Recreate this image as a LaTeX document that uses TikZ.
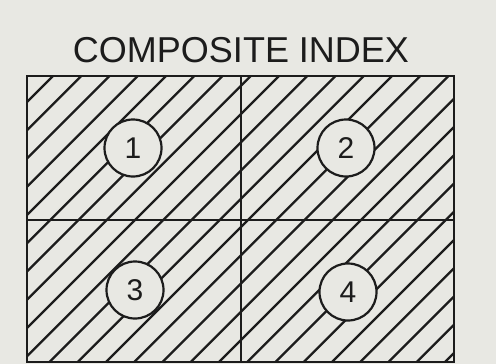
\documentclass[tikz,border=0pt]{standalone}
\usepackage{fontspec}
\setmainfont{Liberation Sans}
\usepackage{xcolor}
\usetikzlibrary{positioning}
\definecolor{paper}{RGB}{232,232,227}
\definecolor{ink}{RGB}{28,28,28}
\tikzset{
  frame/.style   = {draw=ink, line width=2.6pt},
  hatch/.style   = {draw=ink, line width=2.2pt},
  numcirc/.style = {circle, draw=ink, line width=2.2pt, fill=paper,
                    minimum size=57pt, inner sep=0pt,
                    font=\fontsize{30}{30}\selectfont, text=ink},
  heading/.style = {font=\fontsize{36}{40}\selectfont, text=ink}
}
\begin{document}
\begin{tikzpicture}[x=1pt, y=-1pt]
  \fill[paper] (0,0) rectangle (496,364);
  \useasboundingbox (0,0) rectangle (496,364);
  \node[heading] (title) at (241,50) {COMPOSITE INDEX};
  % hatching over the whole field
  \begin{scope}
    \clip (27,76) rectangle (454,362);
    \foreach \k in {-11,...,25}
      \draw[hatch] ({53+28.25*\k},76) -- ++(-286,286);
  \end{scope}
  \node[numcirc] (q1) at (133,148) {1};
  \node[numcirc] (q2) at (346,148) {2};
  \node[numcirc] (q3) at (135,290) {3};
  \node[numcirc] (q4) at (348,292) {4};
  \draw[frame] (27,76) rectangle (454,362);
  \draw[frame] (241,76) -- (241,362);
  \draw[frame] (27,220) -- (454,220);
\end{tikzpicture}
\end{document}
